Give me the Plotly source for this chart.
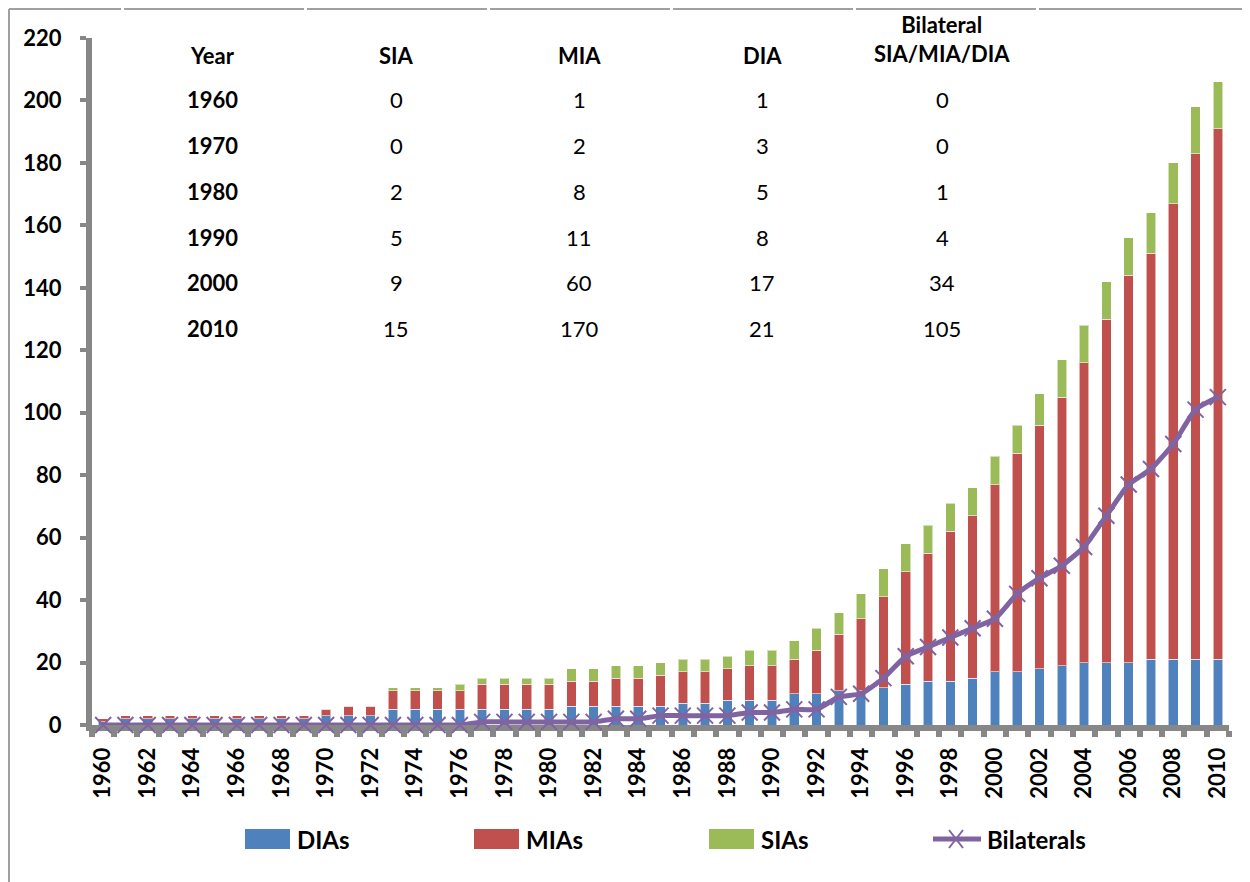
import plotly.graph_objects as go

years = list(range(1960, 2011))
dias = [1, 2, 2, 2, 2, 2, 2, 2, 2, 2,
        3, 3, 3, 5, 5, 5, 5, 5, 5, 5,
        5, 6, 6, 6, 6, 6, 7, 7, 8, 8,
        8, 10, 10, 11, 11, 12, 13, 14, 14, 15,
        17, 17, 18, 19, 20, 20, 20, 21, 21, 21, 21]
mias = [1, 1, 1, 1, 1, 1, 1, 1, 1, 1,
        2, 3, 3, 6, 6, 6, 6, 8, 8, 8,
        8, 8, 8, 9, 9, 10, 10, 10, 10, 11,
        11, 11, 14, 18, 23, 29, 36, 41, 48, 52,
        60, 70, 78, 86, 96, 110, 124, 130, 146, 162, 170]
sias = [0, 0, 0, 0, 0, 0, 0, 0, 0, 0,
        0, 0, 0, 1, 1, 1, 2, 2, 2, 2,
        2, 4, 4, 4, 4, 4, 4, 4, 4, 5,
        5, 6, 7, 7, 8, 9, 9, 9, 9, 9,
        9, 9, 10, 12, 12, 12, 12, 13, 13, 15, 15]
bilaterals = [0, 0, 0, 0, 0, 0, 0, 0, 0, 0,
              0, 0, 0, 0, 0, 0, 0, 1, 1, 1,
              1, 1, 1, 2, 2, 3, 3, 3, 3, 4,
              4, 5, 5, 9, 10, 15, 22, 25, 28, 31,
              34, 42, 47, 51, 57, 67, 77, 82, 90, 101, 105]

table_header = ["Year", "SIA", "MIA", "DIA", "Bilateral<br>SIA/MIA/DIA"]
table_years = ["1960", "1970", "1980", "1990", "2000", "2010"]
table_sia = [0, 0, 2, 5, 9, 15]
table_mia = [1, 2, 8, 11, 60, 170]
table_dia = [1, 3, 5, 8, 17, 21]
table_bil = [0, 0, 1, 4, 34, 105]

y_ticks = list(range(0, 221, 20))
x_ticks = list(range(1960, 2011, 2))

BLUE, RED, GREEN, PURPLE = "#4F81BD", "#C0504D", "#9BBB59", "#8064A2"
AXIS = "#878787"
FONT = "Lato"

# the page body adds an 8px margin; the figure is sized to fill the rest
OFF = 8
W, H = 1250 - OFF, 882 - OFF
X0, X1, Y0, Y1 = 92, 1229, 38, 725          # plot area in page pixels
L, T = X0 - OFF, Y0 - OFF
R, B = W - (X1 - OFF), H - (Y1 - OFF)
PW, PH = X1 - X0, Y1 - Y0


def px(x):
    return (x - X0) / PW


def py(y):
    return (Y1 - y) / PH


fig = go.Figure()
edge = dict(color="rgba(255,255,255,0.55)", width=1)
fig.add_trace(go.Bar(x=years, y=dias, name="DIAs", marker=dict(color=BLUE, line=edge)))
fig.add_trace(go.Bar(x=years, y=mias, name="MIAs", marker=dict(color=RED, line=edge)))
fig.add_trace(go.Bar(x=years, y=sias, name="SIAs", marker=dict(color=GREEN, line=edge)))
fig.add_trace(go.Scatter(
    x=years, y=bilaterals, name="Bilaterals", mode="lines+markers",
    line=dict(color=PURPLE, width=5, shape="spline", smoothing=0.5),
    marker=dict(symbol="x-thin", size=16, line=dict(color=PURPLE, width=2)),
    cliponaxis=False))

shapes = []
annotations = []

# table overlay
col_x = [212, 396, 579, 762, 942]
row_y = [99.5, 145.5, 191.3, 237.1, 282.9, 328.7]
for i, h in enumerate(table_header):
    yy = 55 if i < 4 else 38.5
    annotations.append(dict(text="<b>%s</b>" % h, x=px(col_x[i]), y=py(yy),
                            xref="paper", yref="paper", showarrow=False,
                            xanchor="center", yanchor="middle",
                            font=dict(family=FONT, size=22, color="black")))
for r in range(len(table_years)):
    vals = ["<b>%s</b>" % table_years[r], str(table_sia[r]), str(table_mia[r]),
            str(table_dia[r]), str(table_bil[r])]
    for c, v in enumerate(vals):
        annotations.append(dict(text=v, x=px(col_x[c]), y=py(row_y[r]),
                                xref="paper", yref="paper", showarrow=False,
                                xanchor="center", yanchor="middle",
                                font=dict(family=FONT, size=22, color="black")))

# custom legend
leg_y = 839
items = [(245, BLUE, "DIAs"), (474, RED, "MIAs"), (709, GREEN, "SIAs")]
for x0, col, name in items:
    shapes.append(dict(type="rect", xref="paper", yref="paper",
                       x0=px(x0), x1=px(x0 + 45), y0=py(leg_y - 10), y1=py(leg_y + 10),
                       fillcolor=col, line=dict(width=0)))
    annotations.append(dict(text="<b>%s</b>" % name, x=px(x0 + 50), y=py(leg_y),
                            xref="paper", yref="paper", showarrow=False,
                            xanchor="left", yanchor="middle",
                            font=dict(family=FONT, size=24, color="black")))
shapes.append(dict(type="line", xref="paper", yref="paper",
                   x0=px(933), x1=px(981), y0=py(leg_y), y1=py(leg_y),
                   line=dict(color=PURPLE, width=5)))
for a, b in [((949, leg_y - 9), (963, leg_y + 9)), ((949, leg_y + 9), (963, leg_y - 9))]:
    shapes.append(dict(type="line", xref="paper", yref="paper",
                       x0=px(a[0]), y0=py(a[1]), x1=px(b[0]), y1=py(b[1]),
                       line=dict(color=PURPLE, width=2)))
annotations.append(dict(text="<b>Bilaterals</b>", x=px(985), y=py(leg_y),
                        xref="paper", yref="paper", showarrow=False,
                        xanchor="left", yanchor="middle",
                        font=dict(family=FONT, size=24, color="black")))

# page borders (table frame)
BY = 9
gaps = [122, 305, 488, 671, 854, 1037]
starts = [BY] + [g + 2 for g in gaps]
ends = [g - 1 for g in gaps] + [1250]
for s, e in zip(starts, ends):
    shapes.append(dict(type="line", xref="paper", yref="paper",
                       x0=px(s), x1=px(e), y0=py(BY), y1=py(BY),
                       line=dict(color="#a0a0a0", width=2)))
shapes.append(dict(type="line", xref="paper", yref="paper",
                   x0=px(BY), x1=px(BY), y0=py(BY), y1=py(882),
                   line=dict(color="#a0a0a0", width=2)))

fig.update_layout(
    width=W, height=H, barmode="stack", bargap=0.57,
    margin=dict(l=L, r=R, t=T, b=B, autoexpand=False),
    plot_bgcolor="white", paper_bgcolor="white",
    showlegend=False,
    shapes=shapes, annotations=annotations,
    xaxis=dict(range=[1959.5, 2010.5], tickmode="array", tickvals=x_ticks,
               ticktext=[str(v) for v in x_ticks], tickangle=-90,
               ticks="", showline=True, linecolor=AXIS, linewidth=6,
               showgrid=False, zeroline=False, layer="below traces",
               tickfont=dict(family=FONT, size=22, color="black", weight="bold"),
               ticklabelstandoff=8,
               minor=dict(tickmode="linear", tick0=1959.5, dtick=1, ticks="outside",
                          ticklen=6, tickwidth=6, tickcolor=AXIS, showgrid=False)),
    yaxis=dict(range=[0, 220], tickmode="array", tickvals=y_ticks,
               ticks="outside", ticklen=6, tickwidth=4, tickcolor=AXIS,
               showline=True, linecolor=AXIS, linewidth=6,
               showgrid=False, zeroline=False, layer="below traces",
               tickfont=dict(family=FONT, size=22, color="black", weight="bold"),
               ticklabelstandoff=14),
)

fig.write_html("out.html")
